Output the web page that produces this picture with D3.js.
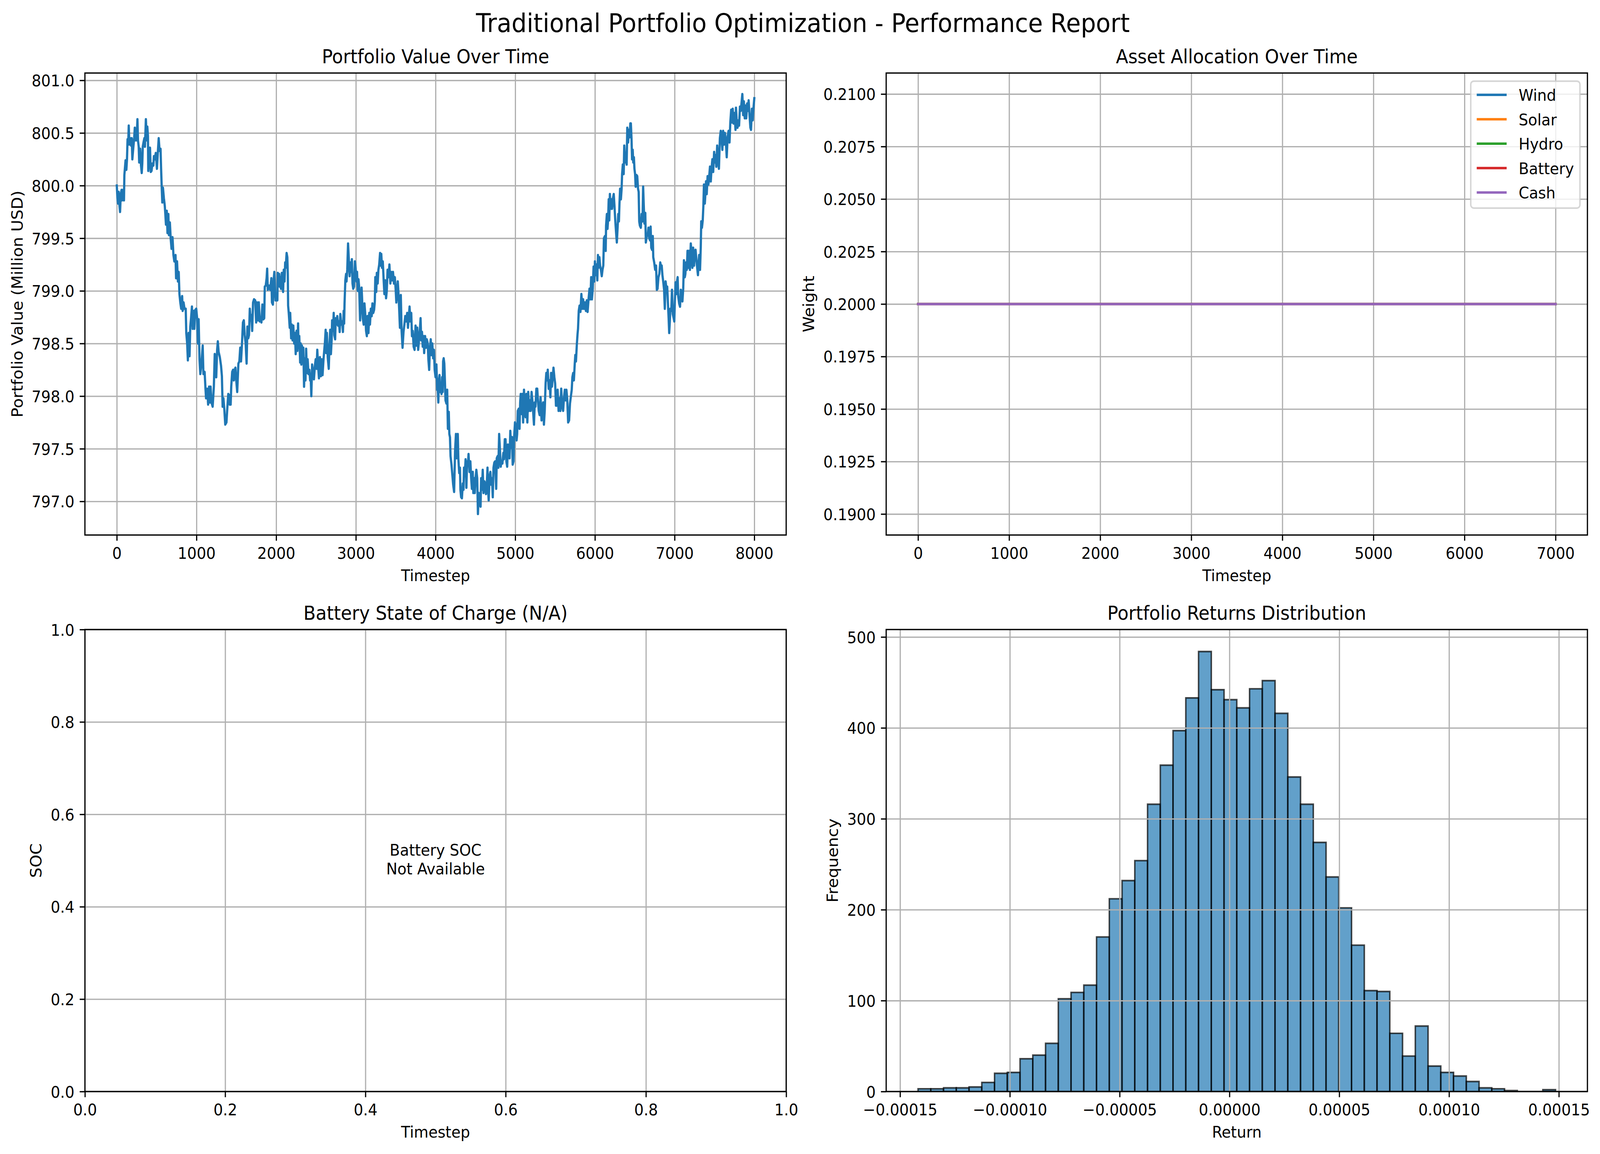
<!DOCTYPE html>
<html><head><meta charset="utf-8">
<script src="https://cdn.jsdelivr.net/npm/d3@7"></script>
<style>html,body{margin:0;padding:0;background:#fff;overflow:hidden;width:100%;height:100%}svg{display:block;width:100vw;height:100vh}</style>
</head><body><svg id="fig"></svg>
<script>
// ---------------- DATA ----------------
const figTitle = "Traditional Portfolio Optimization - Performance Report";
const panelTitles = ["Portfolio Value Over Time", "Asset Allocation Over Time", "Battery State of Charge (N/A)", "Portfolio Returns Distribution"];

// Portfolio value [timestep, million USD]
const portfolioSeries = [
[0,800.00],[8,799.88],[15,799.83],[23,799.94],[30,799.84],[41,799.75],[50,799.92],[60,799.96],[68,799.86],[80,799.96],
[90,799.86],[95,800.10],[110,800.24],[120,800.15],[128,800.25],[135,800.44],[143,800.39],[150,800.57],[158,800.39],[170,800.45],
[180,800.38],[188,800.45],[195,800.25],[206,800.35],[218,800.45],[226,800.55],[233,800.43],[241,800.53],[248,800.43],[259,800.63],
[266,800.43],[275,800.37],[281,800.22],[293,800.35],[304,800.19],[313,800.12],[320,800.21],[326,800.37],[335,800.41],[346,800.45],
[353,800.37],[365,800.63],[376,800.43],[383,800.56],[391,800.47],[395,800.14],[406,800.31],[417,800.36],[426,800.13],[436,800.14],
[447,800.21],[459,800.19],[466,800.28],[477,800.25],[489,800.31],[504,800.16],[516,800.33],[526,800.45],[537,800.33],[549,800.35],
[556,800.16],[564,799.98],[571,799.84],[579,799.98],[591,799.88],[602,799.81],[609,799.73],[617,799.63],[627,799.76],[636,799.55],
[647,799.73],[654,799.53],[666,799.65],[677,799.49],[687,799.40],[699,799.51],[711,799.34],[722,799.28],[737,799.34],[744,799.12],
[756,799.28],[767,799.09],[777,799.18],[786,798.97],[797,798.89],[808,798.83],[820,798.95],[827,798.81],[838,798.89],[850,798.83],
[865,798.83],[872,798.60],[883,798.50],[892,798.34],[902,798.60],[913,798.38],[922,798.66],[932,798.74],[943,798.85],[952,798.64],
[962,798.81],[973,798.64],[985,798.82],[997,798.83],[1008,798.74],[1018,798.50],[1027,798.73],[1038,798.35],[1048,798.21],[1057,798.27],
[1068,798.37],[1078,798.48],[1087,798.21],[1102,798.23],[1113,798.07],[1120,797.98],[1135,798.07],[1146,797.92],[1158,798.09],[1168,797.94],
[1177,798.09],[1188,797.94],[1203,797.90],[1218,798.09],[1229,798.40],[1241,798.29],[1248,798.18],[1259,798.44],[1268,798.52],[1278,798.42],
[1293,798.37],[1308,798.29],[1319,798.19],[1328,797.90],[1338,797.98],[1349,797.88],[1361,797.73],[1376,797.75],[1388,797.90],[1399,798.02],
[1409,798.01],[1418,797.92],[1429,797.92],[1436,798.09],[1448,798.23],[1459,798.25],[1469,798.15],[1478,798.25],[1489,798.27],[1499,798.15],
[1511,798.04],[1526,798.31],[1538,798.33],[1549,798.46],[1559,798.33],[1571,798.50],[1583,798.70],[1594,798.72],[1605,798.58],[1617,798.50],
[1629,798.31],[1639,798.66],[1650,798.55],[1659,798.58],[1669,798.83],[1680,798.72],[1689,798.77],[1699,798.62],[1710,798.89],[1722,798.92],
[1737,798.91],[1749,798.70],[1759,798.89],[1770,798.72],[1782,798.89],[1794,798.71],[1805,798.74],[1815,798.70],[1827,798.87],[1839,798.73],
[1850,798.74],[1857,799.04],[1869,799.05],[1880,799.12],[1887,799.21],[1895,799.01],[1910,799.05],[1925,799.01],[1940,799.12],[1947,798.89],
[1959,798.87],[1970,799.12],[1977,799.18],[1992,798.91],[2004,798.91],
[2008,798.95],[2015,798.91],[2020,799.17],[2030,799.09],[2038,799.16],[2045,799.04],[2053,799.13],[2060,799.02],[2071,799.17],[2080,799.03],
[2087,798.99],[2095,799.20],[2105,799.09],[2113,799.27],[2120,799.22],[2131,799.36],[2140,799.32],[2146,799.16],[2150,798.86],[2158,798.79],
[2170,798.65],[2176,798.79],[2188,798.55],[2195,798.68],[2206,798.53],[2215,798.67],[2226,798.50],[2236,798.60],[2245,798.40],[2256,798.62],
[2266,798.43],[2275,798.69],[2281,798.46],[2290,798.57],[2301,798.32],[2308,798.50],[2316,798.30],[2323,798.48],[2332,798.40],[2341,798.46],
[2350,798.09],[2361,798.36],[2368,798.15],[2376,798.45],[2386,798.22],[2395,798.35],[2406,798.21],[2417,798.25],[2426,798.15],[2432,798.21],
[2441,798.00],[2451,798.30],[2462,798.23],[2474,798.16],[2486,798.29],[2496,798.35],[2507,798.26],[2516,798.44],[2526,798.29],[2537,798.17],
[2549,798.37],[2561,798.19],[2571,798.35],[2582,798.20],[2594,798.35],[2606,798.46],[2612,798.51],[2621,798.63],[2627,798.41],[2636,798.60],
[2647,798.37],[2660,798.26],[2669,798.48],[2678,798.63],[2687,798.40],[2696,798.53],[2702,798.72],[2714,798.62],[2722,798.79],[2729,798.58],
[2740,798.54],[2747,798.74],[2756,798.68],[2767,798.76],[2777,798.67],[2789,798.71],[2797,798.61],[2805,798.78],[2817,798.68],[2827,798.71],
[2838,798.61],[2847,798.81],[2853,798.69],[2858,798.88],[2868,799.10],[2877,799.16],[2883,799.09],[2892,799.20],[2902,799.45],[2913,799.28],
[2922,799.14],[2932,799.27],[2940,799.18],[2950,799.30],[2958,799.07],[2967,799.02],[2977,799.04],[2988,799.28],[2997,799.22],[3008,799.09],
[3015,799.18],[3024,799.00],[3033,799.11],[3042,799.03],[3053,798.72],[3060,798.85],[3072,799.03],[3078,798.93],[3087,798.74],[3098,798.68],
[3108,798.88],[3117,798.79],[3128,798.62],[3138,798.57],[3146,798.76],[3158,798.60],[3168,798.79],[3177,798.68],[3188,798.83],[3199,798.76],
[3208,798.88],[3218,798.79],[3229,798.82],[3238,798.90],[3244,799.13],[3256,798.99],[3263,799.17],[3274,799.07],[3283,799.20],[3293,799.25],
[3304,799.36],[3313,799.24],[3319,799.35],[3328,799.22],[3338,799.28],[3349,799.10],[3358,798.97],[3368,799.10],[3379,798.93],[3388,799.00],
[3398,799.20],[3409,799.13],[3421,799.25],[3433,799.07],[3444,799.18],[3454,799.10],[3466,799.18],[3478,799.07],[3489,799.13],[3499,799.02],
[3508,798.89],[3519,799.00],[3526,799.09],[3534,798.99],[3544,798.82],[3553,798.65],[3564,798.96],[3574,798.62],[3586,798.46],[3598,798.61],
[3609,798.68],[3620,798.76],[3632,798.71],[3644,798.79],[3654,798.65],[3665,798.76],[3674,798.85],[3684,798.71],[3695,798.79],[3704,798.57],
[3714,798.62],[3725,798.47],[3737,798.44],[3749,798.67],[3759,798.48],[3770,798.65],[3782,798.44],[3794,798.55],[3805,798.65],[3812,798.74],
[3820,798.53],[3830,798.61],[3839,798.47],[3850,798.57],[3857,798.41],[3869,798.57],[3880,798.46],[3890,798.54],[3902,798.50],[3910,798.35],
[3920,798.25],[3929,798.46],[3940,798.54],[3947,798.39],[3959,798.50],[3970,798.36],[3980,798.44],[3989,798.25],[4000,798.18],
[4011,798.30],[4020,798.06],[4026,798.09],[4035,797.94],[4041,798.15],[4050,798.20],[4056,798.04],[4065,798.09],[4075,798.02],[4083,798.18],
[4090,798.04],[4095,798.33],[4102,798.36],[4110,798.31],[4116,798.18],[4125,797.96],[4136,797.93],[4146,798.06],[4155,797.69],[4166,797.85],
[4173,797.64],[4181,797.61],[4188,797.43],[4200,797.35],[4211,797.25],[4221,797.16],[4233,797.09],[4245,797.48],[4256,797.64],[4264,797.41],
[4271,797.61],[4279,797.64],[4286,797.41],[4297,797.27],[4306,797.32],[4312,797.11],[4321,797.04],[4331,797.03],[4342,797.17],[4351,797.11],
[4357,797.32],[4366,797.24],[4377,797.40],[4387,797.13],[4396,797.38],[4407,797.36],[4414,797.45],[4426,797.28],[4437,797.38],[4447,797.22],
[4456,797.12],[4467,797.28],[4474,797.08],[4486,797.22],[4492,797.08],[4502,797.22],[4512,797.30],[4523,797.22],[4532,796.88],[4542,797.08],
[4553,796.98],[4565,796.95],[4572,797.22],[4583,797.11],[4592,797.30],[4602,797.08],[4613,797.19],[4622,797.17],[4633,797.07],[4643,797.16],
[4652,797.32],[4658,797.12],[4667,797.01],[4678,797.24],[4688,797.28],[4697,797.16],[4708,797.22],[4718,797.04],[4727,797.32],[4738,797.37],
[4748,797.38],[4761,797.12],[4768,797.41],[4779,797.43],[4788,797.32],[4798,797.64],[4809,797.48],[4818,797.33],[4828,797.38],[4839,797.36],
[4851,797.46],[4858,797.40],[4869,797.59],[4878,797.59],[4889,797.38],[4899,797.33],[4908,797.54],[4919,797.49],[4929,797.41],[4938,797.67],
[4949,797.51],[4959,797.61],[4968,797.35],[4979,797.38],[4986,797.61],[4997,797.75],[5009,797.70],[5017,797.58],[5024,797.64],[5032,797.86],
[5044,797.88],[5054,797.69],[5062,797.94],[5069,798.02],[5080,797.83],[5089,798.02],[5099,797.75],[5110,798.06],[5119,797.86],[5130,797.80],
[5140,798.02],[5152,797.75],[5163,798.04],[5175,797.86],[5185,797.96],[5194,797.86],[5205,798.04],[5215,797.96],[5224,797.86],[5235,797.73],
[5245,797.94],[5254,797.90],[5265,798.07],[5276,798.07],[5285,797.96],[5295,797.86],[5306,797.82],[5318,797.99],[5330,797.77],[5340,797.88],
[5351,797.94],[5360,797.73],[5370,797.86],[5381,798.12],[5390,798.22],[5401,798.15],[5408,798.25],[5420,798.07],[5431,798.15],[5441,797.99],
[5450,798.22],[5461,798.09],[5471,798.18],[5480,798.27],[5491,798.18],[5501,798.12],[5511,797.91],[5521,797.91],[5532,798.06],[5544,797.86],
[5556,797.98],[5566,797.86],[5577,798.07],[5589,797.90],[5601,797.86],[5611,797.98],[5622,798.06],[5631,797.96],[5642,798.06],[5652,797.98],
[5664,797.75],[5676,797.77],[5687,797.93],[5697,797.99],[5709,798.06],[5717,798.18],[5727,798.22],[5736,798.15],[5747,798.31],[5754,798.39],
[5762,798.33],[5773,798.49],[5782,798.59],[5788,798.64],[5797,798.81],[5807,798.86],[5818,798.80],[5830,798.97],[5842,798.83],[5852,798.92],
[5863,798.83],[5875,798.89],[5887,798.81],[5898,798.91],[5908,798.80],[5920,798.92],[5932,799.02],[5943,798.92],[5953,799.13],[5962,798.92],
[5973,799.02],[5983,799.23],[5992,799.09],[6000,799.28],
[6011,799.15],[6020,799.25],[6030,799.10],[6038,799.34],[6045,799.22],[6056,799.32],[6065,799.24],[6075,799.20],[6086,799.14],[6095,799.20],
[6105,799.24],[6113,799.50],[6125,799.52],[6135,799.38],[6140,799.62],[6150,799.73],[6158,799.59],[6165,799.67],[6173,799.87],[6180,799.67],
[6188,799.92],[6195,799.78],[6206,799.87],[6215,799.78],[6226,799.88],[6236,799.92],[6245,799.81],[6256,799.66],[6266,799.55],[6275,799.46],
[6286,799.62],[6293,799.73],[6301,799.66],[6308,799.83],[6316,799.97],[6326,799.87],[6335,799.97],[6341,800.11],[6350,800.20],[6361,800.11],
[6368,800.38],[6376,800.27],[6383,800.22],[6391,800.31],[6398,800.20],[6406,800.55],[6417,800.41],[6426,800.53],[6436,800.46],[6444,800.59],
[6451,800.59],[6459,800.45],[6466,800.25],[6474,800.34],[6481,800.22],[6489,800.27],[6496,800.16],[6504,800.11],[6511,799.99],[6522,800.10],
[6531,800.09],[6541,799.97],[6549,799.94],[6556,799.66],[6564,799.62],[6576,799.60],[6586,799.73],[6597,799.66],[6605,799.99],[6612,799.83],
[6621,799.64],[6632,799.74],[6639,799.46],[6651,799.52],[6662,799.53],[6672,799.60],[6681,799.50],[6692,799.48],[6699,799.61],[6707,799.41],
[6717,799.39],[6726,799.52],[6732,799.32],[6744,799.27],[6756,799.20],[6767,799.24],[6777,799.01],[6786,799.02],[6797,799.13],[6808,799.16],
[6820,799.27],[6832,799.22],[6838,799.24],[6847,799.15],[6857,799.09],[6868,799.01],[6877,798.83],[6887,799.09],[6898,799.02],[6907,799.04],
[6917,798.87],[6925,798.74],[6932,798.60],[6940,798.71],[6947,798.83],[6958,798.81],[6967,799.01],[6977,798.78],[6988,798.74],[6996,798.71],
[7003,798.90],[7012,799.08],[7023,798.97],[7030,799.09],[7038,799.13],[7045,798.95],[7057,798.88],[7068,798.85],[7078,799.01],[7087,798.92],
[7098,798.90],[7108,799.02],[7117,799.29],[7128,799.13],[7135,799.16],[7143,799.27],[7153,799.20],[7162,799.38],[7173,799.22],[7180,799.38],
[7192,799.20],[7203,799.45],[7214,799.36],[7223,799.22],[7233,799.41],[7244,799.24],[7253,799.38],[7263,799.39],[7274,799.29],[7283,799.22],
[7293,799.15],[7301,799.27],[7308,799.34],[7319,799.20],[7328,799.41],[7334,799.66],[7343,799.60],[7353,799.67],[7361,799.81],[7368,800.01],
[7379,799.83],[7388,799.94],[7394,800.04],[7403,799.92],[7414,800.09],[7424,800.01],[7433,800.08],[7444,800.18],[7454,800.04],[7463,800.16],
[7474,800.25],[7484,800.13],[7496,800.32],[7504,800.22],[7514,800.29],[7523,800.18],[7534,800.38],[7544,800.25],[7556,800.16],[7568,800.45],
[7579,800.52],[7589,800.45],[7599,800.34],[7609,800.52],[7620,800.39],[7632,800.50],[7644,800.41],[7654,800.27],[7665,800.46],[7677,800.52],
[7689,800.41],[7699,800.60],[7710,800.72],[7719,800.60],[7729,800.73],[7740,800.59],[7752,800.69],[7764,800.53],[7770,800.74],[7779,800.62],
[7789,800.55],[7800,800.62],[7809,800.57],[7820,800.75],[7830,800.71],[7839,800.78],[7850,800.87],[7860,800.67],[7869,800.80],[7880,800.64],
[7890,800.76],[7899,800.64],[7910,800.78],[7920,800.71],[7929,800.81],[7940,800.67],[7951,800.55],[7959,800.53],[7970,800.73],[7980,800.62],
[7989,800.73],[8000,800.83]
];

// Asset allocation: every asset held at constant weight over timesteps 0..7000
const allocAssets  = ["Wind", "Solar", "Hydro", "Battery", "Cash"];
const allocColors  = ["#1f77b4", "#ff7f0e", "#2ca02c", "#d62728", "#9467bd"];
const allocWeights = [0.2, 0.2, 0.2, 0.2, 0.2];
const allocSteps   = [0, 7000];

// Histogram of returns: 50 bins between retMin and retMax
const retMin = -0.0001418, retMax = 0.0001485;
const retCounts = [3,3,4,4,5,10,20,21,36,40,53,102,109,117,170,212,232,254,316,359,
                   397,433,484,442,431,422,443,452,416,346,316,274,236,202,161,111,110,64,39,72,
                   28,21,17,11,4,3,1,0,0,2];

// Tick values
const tlXTicks = [0,1000,2000,3000,4000,5000,6000,7000,8000];
const tlYTicks = [797.0,797.5,798.0,798.5,799.0,799.5,800.0,800.5,801.0];
const trXTicks = [0,1000,2000,3000,4000,5000,6000,7000];
const trYTicks = [0.19,0.1925,0.195,0.1975,0.2,0.2025,0.205,0.2075,0.21];
const blTicks  = [0,0.2,0.4,0.6,0.8,1.0];
const brXTicks = [-0.00015,-0.0001,-0.00005,0,0.00005,0.0001,0.00015];
const brYTicks = [0,100,200,300,400,500];

// ---------------- LAYOUT ----------------
const W = 4456, H = 2955;
const PT = 300/72;
const FS = 10*PT, TITLE_FS = 12*PT, SUP_FS = 16*PT;
const LW_GRID = 0.8*PT, LW_SPINE = 0.8*PT, TICK_LEN = 3.5*PT, TICK_PAD = 3.5*PT, LABEL_PAD = 4*PT, LINE_W = 1.5*PT;
const GRID_COLOR = "#b0b0b0";
const FONT = "'DejaVu Sans', 'Liberation Sans', sans-serif";

const boxTL = {x0:236.5, x1:2189.5, y0:187, y1:1370};
const boxTR = {x0:2468, x1:4421, y0:187, y1:1370};
const boxBL = {x0:236.5, x1:2189.5, y0:1612, y1:2795};
const boxBR = {x0:2468, x1:4421, y0:1612, y1:2795};

const svg = d3.select("#fig")
  .attr("viewBox", `0 0 ${W} ${H}`).attr("preserveAspectRatio", "none")
  .style("font-family", FONT);
svg.append("rect").attr("width", W).attr("height", H).attr("fill", "#fff");

function pad(ext, f) { const r = ext[1]-ext[0]; return [ext[0]-r*f, ext[1]+r*f]; }

function panel(box, x, y, o) {
  const g = svg.append("g");
  const w = box.x1-box.x0, h = box.y1-box.y0;
  const under = g.append("g");
  const grid = g.append("g");
  grid.append("g").attr("transform", `translate(0,${box.y1})`)
    .call(d3.axisBottom(x).tickValues(o.xTicks).tickSize(-h).tickFormat(""))
    .call(s => s.select(".domain").remove());
  grid.append("g").attr("transform", `translate(${box.x0},0)`)
    .call(d3.axisLeft(y).tickValues(o.yTicks).tickSize(-w).tickFormat(""))
    .call(s => s.select(".domain").remove());
  grid.selectAll(".tick line").attr("stroke", GRID_COLOR).attr("stroke-width", LW_GRID);
  grid.selectAll("text").remove();
  const over = g.append("g");
  if (o.under) o.under(under);
  if (o.over) o.over(over);
  g.append("rect").attr("x", box.x0).attr("y", box.y0).attr("width", w).attr("height", h)
    .attr("fill", "none").attr("stroke", "#000").attr("stroke-width", LW_SPINE);
  const ax = g.append("g").attr("transform", `translate(0,${box.y1})`)
    .call(d3.axisBottom(x).tickValues(o.xTicks).tickFormat(o.xFmt).tickSizeInner(TICK_LEN).tickSizeOuter(0).tickPadding(TICK_PAD));
  const ay = g.append("g").attr("transform", `translate(${box.x0},0)`)
    .call(d3.axisLeft(y).tickValues(o.yTicks).tickFormat(o.yFmt).tickSizeInner(TICK_LEN).tickSizeOuter(0).tickPadding(TICK_PAD));
  [ax, ay].forEach(a => {
    a.select(".domain").remove();
    a.attr("font-size", FS).attr("font-family", FONT);
    a.selectAll(".tick line").attr("stroke", "#000").attr("stroke-width", LW_SPINE);
    a.selectAll(".tick text").attr("fill", "#000");
  });
  ax.selectAll(".tick text").attr("y", TICK_LEN + TICK_PAD + 0.76*FS).attr("dy", null);
  ay.selectAll(".tick text").attr("x", -(TICK_LEN + TICK_PAD)).attr("dy", "0.36em");
  g.append("text").attr("x", (box.x0+box.x1)/2).attr("y", box.y0 - 6*PT)
    .attr("text-anchor", "middle").attr("font-size", TITLE_FS).attr("fill", "#000").text(o.title);
  g.append("text").attr("x", (box.x0+box.x1)/2)
    .attr("y", box.y1 + TICK_LEN + TICK_PAD + 0.97*FS + LABEL_PAD + 0.76*FS)
    .attr("text-anchor", "middle").attr("font-size", FS).attr("fill", "#000").text(o.xLabel);
  const bb = ay.node().getBBox();
  const lx = box.x0 + bb.x - LABEL_PAD - 0.21*FS;
  g.append("text").attr("transform", `translate(${lx},${(box.y0+box.y1)/2}) rotate(-90)`)
    .attr("text-anchor", "middle").attr("font-size", FS).attr("fill", "#000").text(o.yLabel);
  return g;
}

// ---- Top-left: portfolio value ----
{
  const x = d3.scaleLinear().domain(pad(d3.extent(portfolioSeries, d => d[0]), 0.05)).range([boxTL.x0, boxTL.x1]);
  const y = d3.scaleLinear().domain(pad(d3.extent(portfolioSeries, d => d[1]), 0.05)).range([boxTL.y1, boxTL.y0]);
  panel(boxTL, x, y, {
    xTicks: tlXTicks, yTicks: tlYTicks, xFmt: d3.format("d"), yFmt: d3.format(".1f"),
    title: panelTitles[0], xLabel: "Timestep", yLabel: "Portfolio Value (Million USD)",
    over: g => g.append("path").datum(portfolioSeries)
      .attr("d", d3.line().x(d => x(d[0])).y(d => y(d[1])))
      .attr("fill", "none").attr("stroke", "#1f77b4").attr("stroke-width", LINE_W)
      .attr("stroke-linejoin", "round").attr("stroke-linecap", "square")
  });
}

// ---- Top-right: allocation ----
{
  const x = d3.scaleLinear().domain(pad(allocSteps, 0.05)).range([boxTR.x0, boxTR.x1]);
  const y = d3.scaleLinear().domain([0.189, 0.211]).range([boxTR.y1, boxTR.y0]);
  panel(boxTR, x, y, {
    xTicks: trXTicks, yTicks: trYTicks, xFmt: d3.format("d"), yFmt: d3.format(".4f"),
    title: panelTitles[1], xLabel: "Timestep", yLabel: "Weight",
    over: g => {
      allocAssets.forEach((a, i) => {
        g.append("path").datum(allocSteps.map(t => [t, allocWeights[i]]))
          .attr("d", d3.line().x(d => x(d[0])).y(d => y(d[1])))
          .attr("fill", "none").attr("stroke", allocColors[i]).attr("stroke-width", LINE_W)
          .attr("stroke-linecap", "square");
      });
    }
  });
  const bp = 0.4*FS, hl = 2*FS, htp = 0.8*FS, ls = 0.5*FS, bap = 0.5*FS, rowH = FS;
  const lg = svg.append("g");
  const tmp = lg.append("g").attr("font-size", FS);
  let maxW = 0;
  allocAssets.forEach(a => {
    const t = tmp.append("text").text(a);
    maxW = Math.max(maxW, t.node().getComputedTextLength());
  });
  tmp.remove();
  const lw = 2*bp + hl + htp + maxW;
  const lh = 2*bp + allocAssets.length*rowH + (allocAssets.length-1)*ls;
  const lx = boxTR.x1 - bap - lw, ly = boxTR.y0 + bap;
  lg.append("rect").attr("x", lx).attr("y", ly).attr("width", lw).attr("height", lh)
    .attr("rx", 0.2*FS).attr("ry", 0.2*FS)
    .attr("fill", "#fff").attr("fill-opacity", 0.8)
    .attr("stroke", "#cccccc").attr("stroke-opacity", 0.8).attr("stroke-width", 1*PT);
  allocAssets.forEach((a, i) => {
    const cy = ly + bp + i*(rowH + ls) + rowH/2 - 2.5;
    lg.append("line").attr("x1", lx + bp).attr("x2", lx + bp + hl).attr("y1", cy).attr("y2", cy)
      .attr("stroke", allocColors[i]).attr("stroke-width", LINE_W);
    lg.append("text").attr("x", lx + bp + hl + htp).attr("y", cy + 0.365*FS)
      .attr("font-size", FS).attr("fill", "#000").text(a);
  });
}

// ---- Bottom-left: battery SOC (not available) ----
{
  const x = d3.scaleLinear().domain([0, 1]).range([boxBL.x0, boxBL.x1]);
  const y = d3.scaleLinear().domain([0, 1]).range([boxBL.y1, boxBL.y0]);
  panel(boxBL, x, y, {
    xTicks: blTicks, yTicks: blTicks, xFmt: d3.format(".1f"), yFmt: d3.format(".1f"),
    title: panelTitles[2], xLabel: "Timestep", yLabel: "SOC",
    over: g => {
      const t = g.append("text").attr("text-anchor", "middle").attr("font-size", FS).attr("fill", "#000");
      const cx = x(0.5), cy = y(0.5);
      t.append("tspan").attr("x", cx).attr("y", cy - 0.3*FS).text("Battery SOC");
      t.append("tspan").attr("x", cx).attr("y", cy - 0.3*FS + 1.16*FS).text("Not Available");
    }
  });
}

// ---- Bottom-right: returns histogram ----
{
  const binW = (retMax - retMin) / retCounts.length;
  const x = d3.scaleLinear().domain(pad([retMin, retMax], 0.05)).range([boxBR.x0, boxBR.x1]);
  const y = d3.scaleLinear().domain([0, d3.max(retCounts)*1.05]).range([boxBR.y1, boxBR.y0]);
  panel(boxBR, x, y, {
    xTicks: brXTicks, yTicks: brYTicks, xFmt: d3.format(".5f"), yFmt: d3.format("d"),
    title: panelTitles[3], xLabel: "Return", yLabel: "Frequency",
    under: g => {
      g.selectAll("path.bar").data(retCounts).join("path").attr("class", "bar")
        .attr("d", (c, i) => {
          const a = x(retMin + i*binW), b = x(retMin + (i+1)*binW), y0 = y(0), y1 = y(c);
          return `M${a},${y0}V${y1}H${b}V${y0}Z`;
        })
        .attr("fill", "#1f77b4").attr("fill-opacity", 0.7)
        .attr("stroke", "#000").attr("stroke-opacity", 0.7).attr("stroke-width", 1*PT)
        .attr("stroke-linejoin", "miter");
    }
  });
}

// ---- Figure title ----
svg.append("text").attr("x", 2236).attr("y", 82).attr("text-anchor", "middle")
  .attr("font-size", SUP_FS).attr("fill", "#000").text(figTitle);
</script>
</body></html>
